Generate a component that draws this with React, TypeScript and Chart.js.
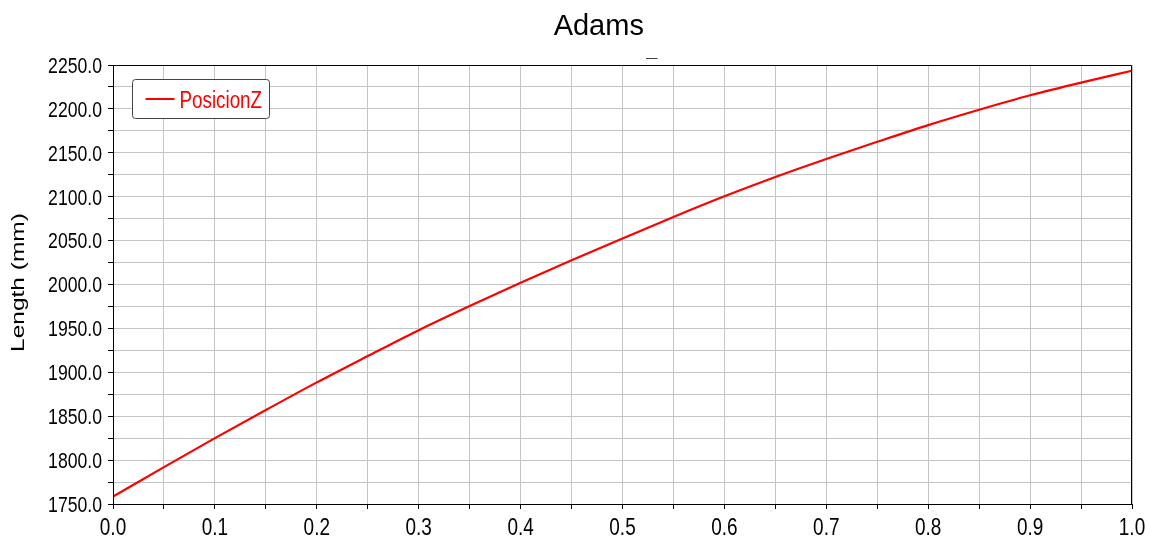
import React, { useEffect, useRef } from "react";
import { Chart, registerables } from "chart.js";

Chart.register(...registerables);

// Simulation time (s) and the Z position of the body (mm)
const timeValues = [0, 0.05, 0.1, 0.15, 0.2, 0.25, 0.3, 0.35, 0.4, 0.45, 0.5, 0.55, 0.6, 0.65, 0.7, 0.75, 0.8, 0.85, 0.9, 0.95, 1.0];
const posicionZ = [1758.5, 1792, 1825, 1857, 1888.5, 1918.5, 1948, 1975.5, 2002, 2027.5, 2052.5, 2077, 2100.5, 2122.5, 2143, 2162.5, 2181.5, 2199, 2215.5, 2230, 2243.5];

// Labelled tick values (grid lines fall every half step in between)
const xTickLabels = [0, 0.1, 0.2, 0.3, 0.4, 0.5, 0.6, 0.7, 0.8, 0.9, 1.0];
const yTickLabels = [1750, 1800, 1850, 1900, 1950, 2000, 2050, 2100, 2150, 2200, 2250];

const seriesLabel = "PosicionZ";
const chartTitle = "Adams";
const chartSubtitle = "_";
const yAxisTitle = "Length (mm)";

const xMin = 0;
const xMax = 1.0;
const xStep = 0.05;
const yMin = 1750;
const yMax = 2250;
const yStep = 25;

const MAIN_FONT = '"Liberation Sans", Arial, sans-serif';

// Text drawn in a narrow (horizontally condensed) style
function narrowText(
  ctx: CanvasRenderingContext2D,
  text: string,
  x: number,
  y: number,
  size: number,
  sx: number,
  align: CanvasTextAlign,
  color: string
) {
  ctx.save();
  ctx.translate(x, y);
  ctx.scale(sx, 1);
  ctx.font = `${size}px ${MAIN_FONT}`;
  ctx.fillStyle = color;
  ctx.textAlign = align;
  ctx.textBaseline = "alphabetic";
  ctx.fillText(text, 0, 0);
  ctx.restore();
}

// Draws the header, tick labels, axis title, plot frame and the boxed legend
const decorPlugin = {
  id: "decor",
  afterDraw(chart: any) {
    const { ctx, chartArea, scales } = chart;
    const { left, top, right, bottom } = chartArea;
    ctx.save();

    // header
    ctx.fillStyle = "#000";
    ctx.textAlign = "center";
    ctx.textBaseline = "alphabetic";
    ctx.font = `29px ${MAIN_FONT}`;
    ctx.fillText(chartTitle, left + (right - left) * 0.4767, 35);
    ctx.font = `bold 20px ${MAIN_FONT}`;
    ctx.fillText(chartSubtitle, left + (right - left) * 0.5277 + 1, 56);

    // tick labels
    for (const v of yTickLabels) {
      const py = scales.y.getPixelForValue(v);
      narrowText(ctx, v.toFixed(1), left - 11, py + 7.8, 21.5, 0.82, "right", "#000");
    }
    for (const v of xTickLabels) {
      const px = scales.x.getPixelForValue(v);
      narrowText(ctx, v.toFixed(1), px, bottom + 31, 24, 0.79, "center", "#000");
    }

    // y axis title, rotated and condensed across the text height
    ctx.save();
    ctx.translate(19, (top + bottom) / 2 - 2);
    ctx.rotate(-Math.PI / 2);
    ctx.scale(1, 0.78);
    ctx.font = `24.5px ${MAIN_FONT}`;
    ctx.fillStyle = "#000";
    ctx.textAlign = "center";
    ctx.textBaseline = "middle";
    ctx.fillText(yAxisTitle, 0, 0);
    ctx.restore();

    // frame
    ctx.strokeStyle = "#000";
    ctx.lineWidth = 1;
    ctx.beginPath();
    const l = Math.round(left) + 0.5;
    const t = Math.round(top) + 0.5;
    const r = Math.round(right) - 0.5;
    const b = Math.round(bottom) + 0.5;
    ctx.moveTo(l, b);
    ctx.lineTo(l, t);
    ctx.lineTo(r, t);
    ctx.lineTo(r, b);
    ctx.stroke();

    // legend box
    const bx = Math.round(left) + 19.5;
    const by = Math.round(top) + 14.5;
    ctx.beginPath();
    ctx.roundRect(bx, by, 137, 39, 3);
    ctx.fillStyle = "#fff";
    ctx.fill();
    ctx.strokeStyle = "#444";
    ctx.stroke();
    const ly = by + 19.5;
    ctx.beginPath();
    ctx.moveTo(bx + 13, ly);
    ctx.lineTo(bx + 42, ly);
    ctx.strokeStyle = "#ff0000";
    ctx.lineWidth = 2;
    ctx.stroke();
    narrowText(ctx, chart.data.datasets[0].label, bx + 47, ly + 8.5, 23.5, 0.8, "left", "#ff0000");

    ctx.restore();
  },
};

export default function App() {
  const canvasRef = useRef<HTMLCanvasElement | null>(null);

  useEffect(() => {
    document.body.style.margin = "0";
    const canvas = canvasRef.current;
    if (!canvas) return;
    const points = timeValues.map((t, i) => ({ x: t, y: posicionZ[i] }));

    const chart = new Chart(canvas, {
      type: "line",
      data: {
        datasets: [
          {
            label: seriesLabel,
            data: points,
            borderColor: "#ff0000",
            backgroundColor: "#ff0000",
            borderWidth: 2.2,
            pointRadius: 0,
            cubicInterpolationMode: "monotone",
            fill: false,
          },
        ],
      },
      options: {
        animation: false,
        responsive: false,
        maintainAspectRatio: false,
        layout: { padding: { top: 65, right: 17, left: 0, bottom: 0 } },
        plugins: {
          legend: { display: false },
          title: { display: false },
          tooltip: { enabled: false },
        },
        scales: {
          x: {
            type: "linear",
            min: xMin,
            max: xMax,
            afterFit(scale: any) {
              scale.height = 34;
              scale.paddingLeft = 0;
              scale.paddingRight = 0;
            },
            ticks: { stepSize: xStep, autoSkip: false, display: false },
            grid: {
              color: "#c4c4c4",
              lineWidth: 1,
              tickLength: 5,
              tickColor: "#000",
            },
            border: { display: true, color: "#000", width: 1 },
          },
          y: {
            type: "linear",
            min: yMin,
            max: yMax,
            afterFit(scale: any) {
              scale.width = 113;
              scale.paddingTop = 0;
              scale.paddingBottom = 0;
            },
            ticks: { stepSize: yStep, autoSkip: false, display: false },
            grid: {
              color: "#c4c4c4",
              lineWidth: 1,
              tickLength: 5,
              tickColor: "#000",
            },
            border: { display: true, color: "#000", width: 1 },
          },
        },
      },
      plugins: [decorPlugin],
    });

    return () => chart.destroy();
  }, []);

  return (
    <div style={{ position: "absolute", left: 0, top: 0, width: 1149, height: 538, background: "#fff" }}>
      <canvas ref={canvasRef} width={1149} height={538} style={{ width: 1149, height: 538, display: "block" }} />
    </div>
  );
}
